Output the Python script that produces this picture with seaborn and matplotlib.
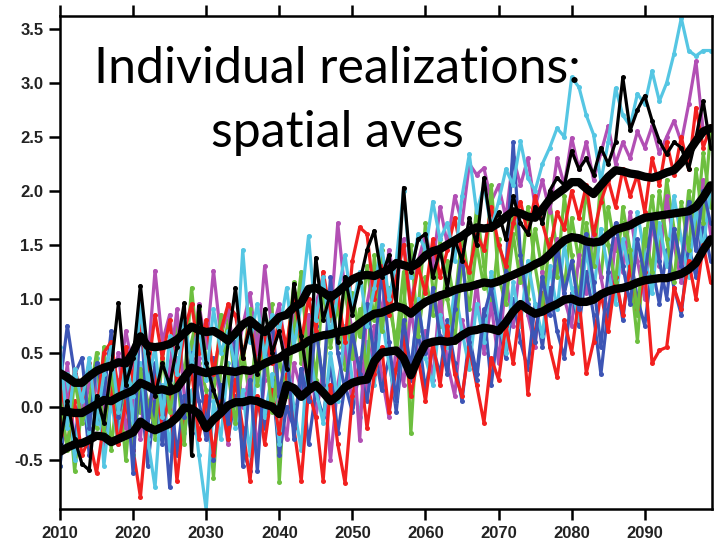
import numpy as np
import pandas as pd
import matplotlib
matplotlib.use("Agg")
import matplotlib.pyplot as plt
import seaborn as sns

years = list(range(2010, 2100))

# thick smoothed black curves
upper_smooth = [0.31, 0.27, 0.22, 0.22, 0.28, 0.33, 0.36, 0.38, 0.41, 0.40,
                0.50, 0.65, 0.56, 0.55, 0.56, 0.58, 0.62, 0.68, 0.74, 0.71,
                0.69, 0.70, 0.66, 0.61, 0.68, 0.76, 0.80, 0.74, 0.69, 0.76,
                0.83, 0.85, 0.92, 0.96, 1.09, 1.10, 1.06, 1.01, 1.06, 1.12,
                1.18, 1.21, 1.22, 1.21, 1.24, 1.27, 1.33, 1.31, 1.29, 1.33,
                1.40, 1.44, 1.46, 1.50, 1.54, 1.58, 1.63, 1.66, 1.65, 1.66,
                1.70, 1.76, 1.81, 1.79, 1.76, 1.75, 1.83, 1.92, 1.97, 2.02,
                2.08, 2.08, 2.02, 1.97, 2.05, 2.13, 2.19, 2.18, 2.16, 2.15,
                2.13, 2.12, 2.14, 2.17, 2.19, 2.26, 2.36, 2.46, 2.55, 2.58]
middle_smooth = [-0.04, -0.05, -0.06, -0.06, -0.02, 0.02, 0.06, 0.05, 0.09, 0.12,
                 0.15, 0.22, 0.19, 0.15, 0.16, 0.14, 0.17, 0.27, 0.36, 0.33,
                 0.31, 0.33, 0.34, 0.33, 0.32, 0.34, 0.33, 0.36, 0.40, 0.43,
                 0.45, 0.50, 0.53, 0.56, 0.61, 0.64, 0.66, 0.67, 0.69, 0.70,
                 0.72, 0.77, 0.82, 0.86, 0.87, 0.90, 0.93, 0.91, 0.86, 0.92,
                 0.97, 1.00, 1.03, 1.05, 1.08, 1.10, 1.11, 1.13, 1.15, 1.14,
                 1.16, 1.19, 1.22, 1.25, 1.28, 1.32, 1.35, 1.41, 1.48, 1.54,
                 1.57, 1.56, 1.53, 1.52, 1.53, 1.59, 1.64, 1.66, 1.68, 1.72,
                 1.75, 1.76, 1.77, 1.78, 1.79, 1.80, 1.81, 1.85, 1.94, 2.05]
lower_smooth = [-0.42, -0.38, -0.35, -0.34, -0.31, -0.27, -0.28, -0.33, -0.30, -0.27,
                -0.24, -0.14, -0.19, -0.22, -0.19, -0.16, -0.10, -0.01, -0.02, -0.07,
                -0.20, -0.12, -0.06, 0.01, 0.04, 0.04, 0.06, 0.05, 0.02, 0.00,
                -0.07, 0.20, 0.17, 0.09, 0.15, 0.20, 0.13, 0.05, 0.10, 0.18,
                0.22, 0.24, 0.25, 0.42, 0.50, 0.51, 0.52, 0.45, 0.29, 0.45,
                0.58, 0.60, 0.61, 0.60, 0.61, 0.66, 0.70, 0.71, 0.73, 0.72,
                0.70, 0.78, 0.88, 0.95, 0.90, 0.86, 0.88, 0.92, 0.95, 0.99,
                1.00, 0.97, 0.97, 0.99, 1.04, 1.07, 1.09, 1.10, 1.12, 1.15,
                1.17, 1.18, 1.19, 1.19, 1.21, 1.23, 1.27, 1.33, 1.45, 1.55]

# individual realizations
red_a = [-0.10, -0.35, 0.05, -0.45, -0.30, -0.62, -0.15, 0.20, -0.35, 0.05,
         -0.40, -0.84, -0.10, 0.30, -0.20, 0.10, -0.69, -0.05, 0.35, -0.30,
         0.10, -0.45, 0.05, -0.30, 0.25, -0.20, -0.69, 0.10, -0.35, 0.15,
         -0.25, 0.30, -0.20, -0.69, 0.15, -0.10, -0.69, 0.20, -0.35, -0.71,
         0.10, 0.40, -0.20, 0.30, 0.55, -0.05, 0.35, 0.65, 0.10, 0.45,
         0.05, 0.60, 0.20, 0.75, 0.30, 0.10, 0.55, 0.20, -0.15, 0.45,
         0.25, 0.75, 0.40, 0.95, 0.12, 0.70, 1.05, 0.55, 0.27, 0.80,
         0.50, 1.00, 0.31, 0.60, 1.05, 0.70, 1.20, 0.85, 1.30, 0.90,
         1.25, 0.40, 0.52, 0.55, 1.10, 0.90, 1.35, 1.00, 1.50, 1.15]
red_b = [0.20, -0.10, 0.35, 0.10, 0.40, -0.05, 0.50, 0.60, 0.15, 0.55,
         0.25, 0.75, 0.30, 0.85, 0.45, 0.80, 0.20, 0.70, 0.95, 0.50,
         0.80, 0.30, 0.70, 0.95, 0.85, 0.45, 0.80, 0.35, 0.65, 0.40,
         0.85, 0.55, 1.05, 0.60, 1.00, 0.70, 1.25, 0.85, 1.05, 0.60,
         1.35, 1.66, 1.60, 1.00, 1.30, 0.85, 1.20, 1.50, 0.90, 1.30,
         1.05, 1.55, 1.20, 1.45, 1.75, 1.40, 1.25, 1.60, 1.45, 1.85,
         1.50, 1.30, 1.70, 1.90, 1.60, 1.95, 1.70, 1.45, 1.80, 1.65,
         2.00, 1.75, 2.05, 1.60, 1.90, 2.10, 1.85, 2.20, 1.95, 2.15,
         1.80, 2.30, 2.05, 2.45, 2.15, 2.50, 2.20, 2.77, 2.40, 2.60]
blue_a = [0.20, 0.75, 0.30, 0.45, -0.20, 0.40, 0.10, 0.70, -0.10, 0.30,
          -0.62, 0.90, -0.20, 0.40, 0.10, -0.75, 0.30, -0.10, 0.50, 0.05,
          -0.30, 0.45, 0.15, -0.15, 0.60, -0.55, 0.25, -0.60, 0.40, 0.80,
          0.10, 0.55, -0.30, 0.35, 0.05, 0.75, 0.20, 1.20, 0.50, 0.15,
          0.70, 0.30, 0.95, 0.45, 1.25, 0.60, 0.05, 0.80, 0.35, 0.95,
          0.50, 1.10, 0.65, 0.30, 0.90, 1.45, 0.60, 0.25, 0.85, 1.10,
          0.70, 1.25, 2.45, 1.40, 0.95, 0.60, 1.20, 0.85, 1.50, 1.05,
          1.35, 0.90, 1.60, 1.15, 0.55, 1.25, 1.70, 1.30, 0.95, 1.55,
          1.20, 1.75, 1.35, 1.00, 1.65, 1.30, 1.90, 1.45, 2.00, 1.70]
blue_b = [-0.55, 0.10, -0.35, 0.25, -0.45, 0.05, -0.30, 0.35, -0.20, 0.15,
          -0.40, 0.20, -0.55, 0.05, -0.35, 0.25, -0.45, 0.10, -0.25, 0.30,
          -0.10, -0.50, 0.20, -0.30, 0.10, -0.40, -0.60, 0.05, -0.20, 0.25,
          -0.45, 0.00, -0.20, 0.35, -0.35, 0.15, -0.10, 0.40, -0.25, 0.20,
          -0.05, 0.35, 0.05, 0.55, 0.15, 0.45, -0.05, 0.60, 0.25, 0.70,
          0.15, 0.55, 0.30, 0.80, 0.40, 0.05, 0.65, 0.30, 0.90, 0.20,
          0.75, 0.45, 1.00, 0.60, 0.35, 0.95, 0.55, 1.10, 0.70, 0.45,
          1.05, 0.75, 1.25, 0.85, 0.30, 0.90, 1.20, 0.80, 1.40, 1.00,
          0.75, 1.30, 0.95, 1.45, 1.10, 0.85, 1.50, 1.20, 1.70, 1.35]
cyan_a = [0.55, -0.20, 0.35, 0.05, 0.45, -0.15, 0.30, 0.55, -0.05, 0.40,
          0.10, 0.95, 0.20, 0.55, -0.10, 0.65, 0.30, 0.80, 0.40, 0.75,
          0.25, 0.90, 0.50, 0.70, 0.35, 1.45, 0.60, 0.95, 0.45, 0.85,
          0.70, 1.10, 0.55, 0.95, 1.58, 0.80, 1.20, 0.65, 1.05, 1.40,
          0.90, 1.25, 0.75, 1.10, 1.50, 1.00, 1.35, 2.00, 1.20, 1.60,
          1.45, 1.90, 1.55, 1.70, 1.35, 1.95, 2.34, 1.80, 2.05, 1.65,
          1.90, 2.20, 2.05, 2.46, 2.12, 2.00, 2.25, 2.40, 2.58, 2.50,
          3.05, 2.96, 2.70, 2.52, 2.09, 2.45, 2.95, 2.70, 2.60, 2.90,
          2.80, 3.11, 2.83, 3.00, 3.27, 3.60, 3.30, 3.25, 3.30, 3.30]
cyan_b = [-0.30, 0.30, -0.50, 0.15, -0.25, 0.45, -0.55, 0.05, -0.35, 0.50,
          -0.15, 0.40, -0.30, -0.75, 0.20, -0.40, 0.45, -0.25, 0.15, -0.45,
          -0.96, 0.05, -0.30, 0.40, -0.20, 0.15, -0.45, 0.50, -0.10, 0.30,
          -0.35, 0.45, 0.00, -0.40, 0.60, 0.15, -0.15, 0.50, 0.05, 0.75,
          0.25, -0.10, 0.60, 0.20, 0.85, 0.40, 0.05, 0.70, 0.30, 1.00,
          0.45, 0.20, 0.85, 0.55, 1.10, 0.70, 0.35, 0.95, 0.60, 1.25,
          0.80, 0.50, 1.15, 0.75, 1.35, 0.95, 0.65, 1.30, 0.90, 1.50,
          1.10, 0.80, 1.45, 1.05, 1.65, 1.25, 0.95, 1.55, 1.20, 1.80,
          1.40, 1.05, 1.70, 1.30, 1.95, 1.55, 1.20, 1.85, 1.45, 2.05]
green_a = [-0.55, 0.20, -0.60, 0.00, 0.35, -0.20, 0.55, -0.40, 0.25, -0.50,
           0.30, -0.05, 0.60, -0.30, 0.45, 0.10, 0.75, 0.25, 1.10, 0.40,
           0.15, -0.66, 0.35, 0.80, 0.20, 0.55, 0.05, 0.75, 0.30, 0.95,
           -0.70, 0.50, 1.15, 0.40, 0.85, 0.25, 1.10, 0.55, 0.95, 0.35,
           1.05, 0.65, 1.30, 0.80, 1.45, 0.95, 0.60, 1.25, -0.25, 0.90,
           1.70, 1.10, 0.75, 1.35, 0.95, 1.60, 1.15, 1.85, 1.30, 0.90,
           1.55, 1.20, 1.80, 1.40, 1.00, 1.65, 1.25, 1.90, 1.45, 1.10,
           1.75, 1.35, 2.00, 1.55, 1.20, 1.85, 1.45, 1.70, 1.25, 0.61,
           1.50, 1.95, 1.40, 2.10, 1.65, 1.30, 2.00, 1.60, 2.35, 1.85]
green_b = [0.10, -0.40, 0.25, -0.15, 0.05, 0.50, -0.25, 0.30, -0.10, 0.20,
           -0.45, 0.35, 0.05, -0.20, 0.50, -0.05, 0.30, -0.35, 0.60, 0.90,
           0.45, 0.10, 0.85, 0.30, -0.15, 0.40, 0.90, 0.20, 0.60, -0.05,
           0.45, 0.10, 0.70, 1.25, 0.35, 0.75, 0.20, 0.95, 0.55, 1.15,
           0.45, 0.90, 0.30, 1.40, 0.70, 1.10, 0.50, 0.95, 1.50, 0.65,
           1.20, 0.85, 1.55, 1.00, 0.60, 1.35, 0.90, 1.50, 1.10, 2.05,
           1.20, 0.95, 1.60, 1.15, 1.85, 1.30, 0.90, 1.55, 1.20, 1.95,
           1.40, 1.00, 1.70, 1.30, 2.10, 1.50, 1.15, 1.85, 1.45, 0.85,
           1.65, 1.25, 2.00, 1.55, 1.15, 1.90, 1.45, 2.20, 1.70, 2.55]
magenta_a = [0.45, 0.05, 0.30, -0.10, 0.20, 0.40, -0.05, 0.35, 0.15, 0.70,
             0.35, 0.85, 0.40, 1.26, 0.60, 0.85, 0.30, 0.70, 0.45, 0.95,
             0.55, 1.26, 0.65, 0.90, 0.40, 0.75, 1.05, 0.50, 1.30, 0.70,
             0.95, 0.45, 0.85, 1.10, 0.60, 0.95, 1.20, 0.80, 1.70, 1.05,
             0.70, -0.31, 0.95, 1.30, 0.85, 1.45, 1.10, 1.55, 0.95, 1.35,
             1.60, 1.30, 1.85, 1.50, 1.95, 1.70, 2.25, 2.15, 2.21, 1.90,
             2.05, 1.75, 2.31, 2.05, 2.30, 1.85, 2.10, 1.80, 2.30, 2.05,
             2.49, 2.20, 2.45, 2.10, 2.35, 2.60, 2.25, 2.45, 2.30, 2.55,
             2.40, 2.60, 2.35, 2.50, 2.65, 2.45, 2.80, 3.20, 2.55, 2.50]
magenta_b = [-0.20, 0.40, -0.35, 0.10, -0.15, 0.25, -0.40, 0.15, 0.50, -0.20,
             0.05, -0.30, 0.50, 0.00, -0.25, 0.35, 0.90, 0.10, -0.15, 0.45,
             -0.20, 0.35, 0.10, -0.35, 0.55, 0.00, 0.30, -0.40, 0.25, 0.65,
             0.05, -0.30, 0.40, 0.15, 0.85, -0.10, 0.35, -0.50, 0.20, 0.60,
             0.00, 0.45, 0.15, 0.75, 0.30, -0.10, 0.55, 0.20, 0.90, 0.45,
             0.70, 0.25, 1.05, 0.40, 0.10, 0.80, 0.55, 1.15, 0.50, 0.95,
             0.40, 1.20, 0.75, 1.35, 0.85, 0.55, 1.25, 0.90, 1.55, 1.00,
             0.75, 1.40, 1.05, 1.65, 1.20, 0.85, 1.55, 1.25, 1.80, 1.35,
             1.00, 1.70, 1.30, 1.95, 1.50, 1.15, 1.85, 1.45, 2.10, 1.60]
black_thin = [-0.35, 0.05, -0.30, -0.53, -0.59, 0.10, -0.15, 0.35, 0.96, 0.20,
              0.45, 1.12, 0.50, 0.10, 0.40, 0.20, 0.55, 0.96, -0.45, 0.93,
              0.40, 0.15, -0.05, 0.60, 1.10, 0.45, 0.75, 0.30, 0.90, 0.50,
              0.70, 0.35, 1.14, 0.65, 0.20, 1.38, 0.80, 1.05, 0.60, 1.20,
              0.85, 1.15, 1.45, 1.63, 1.20, 1.40, 0.95, 2.03, 1.25, 1.55,
              1.60, 1.20, 1.45, 1.10, 1.55, 1.35, 1.75, 1.50, 2.12, 1.65,
              1.80, 1.55, 1.95, 1.70, 1.60, 1.85, 1.70, 2.00, 2.12, 2.05,
              2.37, 2.20, 2.30, 2.15, 2.40, 2.25, 2.45, 3.05, 2.56, 2.75,
              2.88, 2.65, 2.46, 2.34, 2.45, 2.40, 2.20, 2.49, 2.83, 2.40]

series = [
    ("green_a", green_a, "#6dbf3f"),
    ("magenta_b", magenta_b, "#b24fb4"),
    ("blue_b", blue_b, "#3d55b5"),
    ("cyan_b", cyan_b, "#55c6e3"),
    ("red_a", red_a, "#f2201f"),
    ("magenta_a", magenta_a, "#b24fb4"),
    ("green_b", green_b, "#6dbf3f"),
    ("blue_a", blue_a, "#3d55b5"),
    ("red_b", red_b, "#f2201f"),
    ("cyan_a", cyan_a, "#55c6e3"),
    ("black_thin", black_thin, "#000000"),
]

ytick_vals = [-0.5, 0.0, 0.5, 1.0, 1.5, 2.0, 2.5, 3.0, 3.5]
ytick_labels = ["-0.5", "0.0", "0.5", "1.0", "1.5", "2.0", "2.5", "3.0", "3.5"]
xtick_vals = [2010, 2020, 2030, 2040, 2050, 2060, 2070, 2080, 2090]
xtick_labels = ["2010", "2020", "2030", "2040", "2050", "2060", "2070", "2080", "2090"]

sns.set_style("ticks")
W, H = 714, 547
fig = plt.figure(figsize=(W / 100, H / 100), dpi=100)
fig.patch.set_facecolor("white")
ax = fig.add_axes([60 / W, 1 - 509 / H, (712 - 60) / W, (509 - 16) / H])

for name, vals, col in series:
    sns.lineplot(x=years, y=vals, color=col, lw=2.3, marker="o", markersize=3.6,
                 markeredgewidth=0, ax=ax, legend=False, zorder=2)

for vals in [upper_smooth, middle_smooth, lower_smooth]:
    sns.lineplot(x=years, y=vals, color="black", lw=6.0, ax=ax, legend=False,
                 zorder=5, solid_capstyle="round", solid_joinstyle="round")

ax.set_xlim(2010, 2099.2)
ax.set_ylim(-0.95, 3.62)
ax.set_xticks(xtick_vals)
ax.set_xticklabels(xtick_labels)
ax.set_yticks(ytick_vals)
ax.set_yticklabels(ytick_labels)
ax.set_xlabel("")
ax.set_ylabel("")
for s in ax.spines.values():
    s.set_linewidth(1.8)
    s.set_color("black")
    s.set_visible(True)
ax.tick_params(axis="both", direction="out", length=8, width=1.8, color="black",
               labelsize=12, pad=4, labelcolor="#222222")
ax.tick_params(axis="x", top=True, labeltop=False)
for lab in ax.get_xticklabels() + ax.get_yticklabels():
    lab.set_fontfamily(["Liberation Sans", "DejaVu Sans"])
    lab.set_fontweight("bold")

fig.text(337 / W, 1 - 83 / H, "Individual realizations:", ha="center", va="baseline",
         fontsize=36, family=["Lato", "DejaVu Sans"], color="black")
fig.text(337 / W, 1 - 147 / H, "spatial aves", ha="center", va="baseline",
         fontsize=36, family=["Lato", "DejaVu Sans"], color="black")

fig.savefig("out.png", dpi=100, facecolor="white")
